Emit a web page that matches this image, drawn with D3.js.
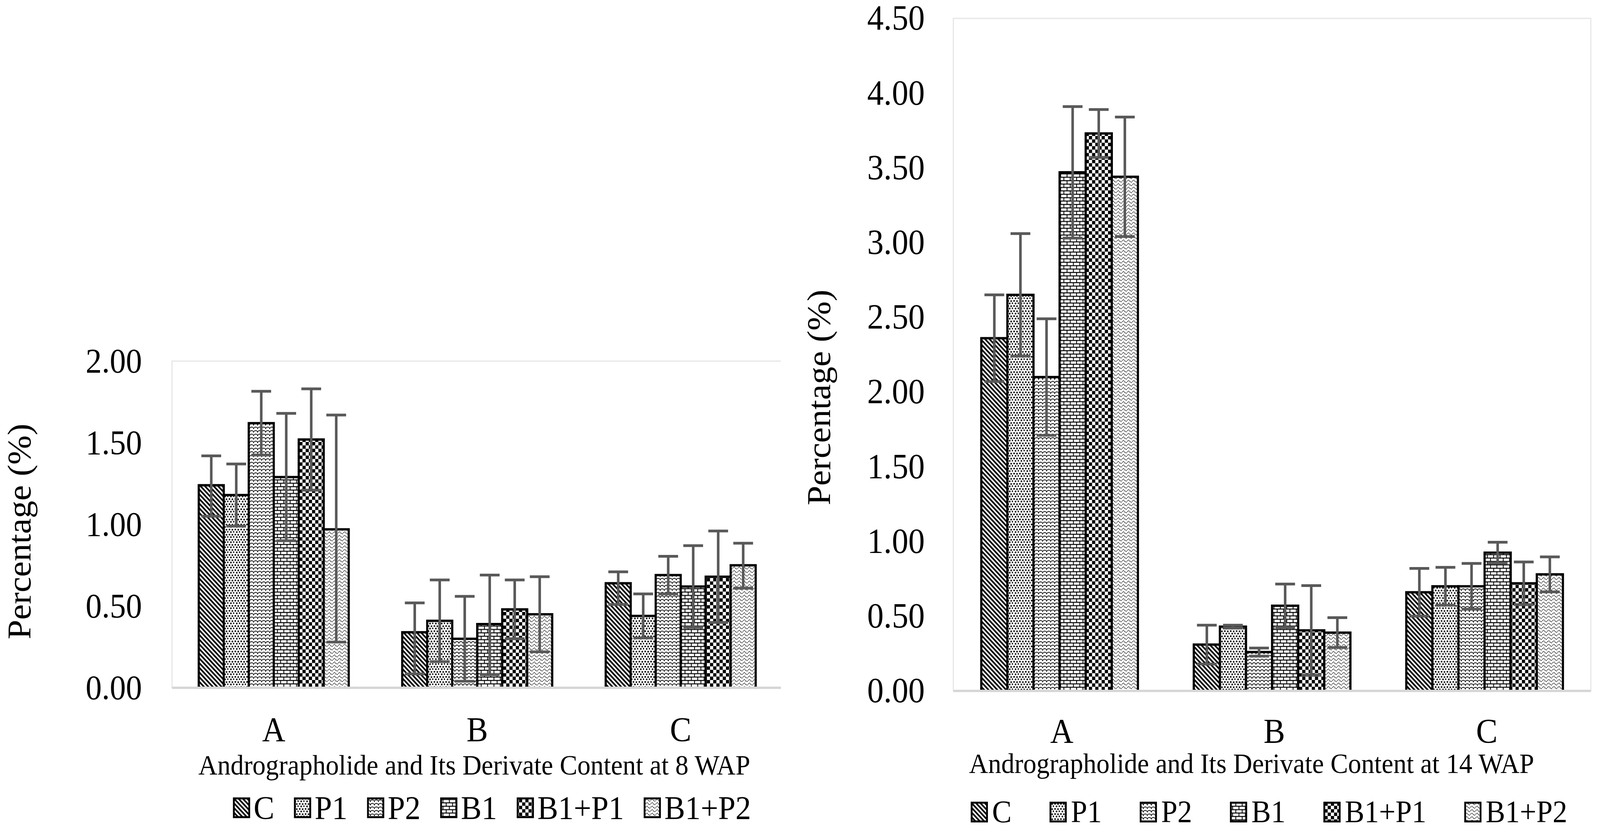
<!DOCTYPE html>
<html>
<head>
<meta charset="utf-8">
<script src="https://cdn.jsdelivr.net/npm/d3@7"></script>
<style>
  html, body { margin: 0; padding: 0; background: #fff; overflow: hidden; width: 100%; height: 100%; }
  svg { display: block; width: 100vw; height: 100vh; }
  text { font-family: "Liberation Serif", "Times New Roman", serif; fill: #000; }
</style>
</head>
<body>
<svg id="chart" viewBox="0 0 4372 2129" preserveAspectRatio="none"></svg>
<script>
// ---------------- DATA ----------------
const categories = ["A", "B", "C"];
const seriesNames = ["C", "P1", "P2", "B1", "B1+P1", "B1+P2"];

// 8 WAP (rows = categories A, B, C; columns = series)
const values8WAP = [
  [1.24, 1.18, 1.62, 1.29, 1.52, 0.97],
  [0.34, 0.41, 0.30, 0.39, 0.48, 0.45],
  [0.64, 0.44, 0.69, 0.62, 0.68, 0.75]
];
const errPlus8WAP = [
  [0.18, 0.19, 0.195, 0.39, 0.31, 0.70],
  [0.18, 0.25, 0.26, 0.30, 0.18, 0.23],
  [0.07, 0.135, 0.115, 0.25, 0.28, 0.135]
];
const errMinus8WAP = [
  [0.19, 0.19, 0.195, 0.39, 0.31, 0.69],
  [0.255, 0.25, 0.26, 0.31, 0.18, 0.23],
  [0.13, 0.135, 0.115, 0.25, 0.28, 0.14]
];
const yTicks8WAP = [0, 0.5, 1.0, 1.5, 2.0];

// 14 WAP
const values14WAP = [
  [2.36, 2.65, 2.10, 3.47, 3.73, 3.44],
  [0.31, 0.43, 0.26, 0.57, 0.405, 0.39],
  [0.66, 0.70, 0.70, 0.925, 0.72, 0.78]
];
const errPlus14WAP = [
  [0.29, 0.41, 0.39, 0.44, 0.16, 0.40],
  [0.13, 0.01, 0.027, 0.145, 0.30, 0.10],
  [0.16, 0.127, 0.153, 0.07, 0.143, 0.117]
];
const errMinus14WAP = [
  [0.29, 0.41, 0.39, 0.44, 0.16, 0.40],
  [0.13, 0.01, 0.027, 0.145, 0.30, 0.10],
  [0.16, 0.127, 0.153, 0.07, 0.143, 0.117]
];
const yTicks14WAP = [0, 0.5, 1.0, 1.5, 2.0, 2.5, 3.0, 3.5, 4.0, 4.5];

const yTitle = "Percentage (%)";
const xTitle8WAP = "Andrographolide and Its Derivate Content at 8 WAP";
const xTitle14WAP = "Andrographolide and Its Derivate Content at 14 WAP";

// ---------------- DRAWING ----------------
const svg = d3.select("#chart");
svg.append("rect").attr("width", 4372).attr("height", 2129).attr("fill", "#fff");
const defs = svg.append("defs");

function pattern(id, w, h) {
  const p = defs.append("pattern").attr("id", id)
    .attr("patternUnits", "userSpaceOnUse").attr("width", w).attr("height", h);
  p.append("rect").attr("width", w).attr("height", h).attr("fill", "#fff");
  return p;
}
// C : wide downward diagonal
{
  const p = pattern("pat0", 12, 12);
  p.append("path").attr("d", "M-3,-3 L15,15 M-9,3 L3,15 M3,-9 L15,3")
    .attr("stroke", "#000").attr("stroke-width", 4.4);
}
// P1 : dotted
{
  const p = pattern("pat1", 16, 13);
  [[1,1],[9,1.5],[5,7.5],[13,7]].forEach(([x,y]) =>
    p.append("rect").attr("x", x).attr("y", y).attr("width", 4).attr("height", 4).attr("fill", "#000"));
}
// P2 : shingle (offset scale arcs)
{
  const p = pattern("pat2", 22, 18);
  p.append("path")
    .attr("d", "M0,9 C0,2 11,2 11,9 C11,2 22,2 22,9 M-11,18 C-11,11 0,11 0,18 C0,11 11,11 11,18 C11,11 22,11 22,18 C22,11 33,11 33,18 M-11,0 C-11,-7 0,-7 0,0 C0,-7 11,-7 11,0 C11,-7 22,-7 22,0 C22,-7 33,-7 33,0")
    .attr("fill", "none").attr("stroke", "#000").attr("stroke-width", 1.8);
}
// B1 : horizontal brick
{
  const p = pattern("pat3", 17.4, 17.4);
  p.append("path")
    .attr("d", "M0,1.2 H17.4 M0,9.9 H17.4 M1.2,1.2 V9.9 M9.9,9.9 V17.4 M9.9,0 V1.2")
    .attr("stroke", "#000").attr("stroke-width", 2.3).attr("fill", "none");
}
// B1+P1 : large checkerboard
{
  const p = pattern("pat4", 17.4, 17.4);
  p.append("rect").attr("x", 0).attr("y", 0).attr("width", 8.7).attr("height", 8.7).attr("fill", "#000");
  p.append("rect").attr("x", 8.7).attr("y", 8.7).attr("width", 8.7).attr("height", 8.7).attr("fill", "#000");
}
// B1+P2 : wave
{
  const p = pattern("pat5", 14, 9);
  p.append("path").attr("d", "M0,5 C2.5,1 4.5,1 7,4.5 C9.5,8 11.5,8 14,5")
    .attr("fill", "none").attr("stroke", "#000").attr("stroke-width", 1.8)
    .attr("stroke-dasharray", "3,1.5");
}

function drawChart(cfg) {
  const g = svg.append("g");
  const x = d3.scaleBand().domain(categories).range([cfg.left, cfg.right])
    .paddingInner(0.263).paddingOuter(0.1315);
  const xs = d3.scaleBand().domain(seriesNames).range([0, x.bandwidth()]);
  const y = d3.scaleLinear().domain(cfg.yDomain).range([cfg.bottom, cfg.top]);

  // plot frame
  g.append("path").attr("d", cfg.framePath)
    .attr("fill", "none").attr("stroke", "#e6e6e6").attr("stroke-width", 3);

  // bars
  categories.forEach((cat, ci) => {
    seriesNames.forEach((s, si) => {
      const v = cfg.values[ci][si];
      g.append("rect")
        .attr("x", x(cat) + xs(s))
        .attr("y", y(v))
        .attr("width", xs.bandwidth())
        .attr("height", y(0) - y(v))
        .attr("fill", `url(#pat${si})`)
        .attr("stroke", "#000").attr("stroke-width", 6);
    });
  });

  // axis line
  g.append("line").attr("x1", cfg.left).attr("x2", cfg.axisRight)
    .attr("y1", y(0)).attr("y2", y(0))
    .attr("stroke", "#d6d6d6").attr("stroke-width", 6);

  // error bars
  const capW = 54;
  categories.forEach((cat, ci) => {
    seriesNames.forEach((s, si) => {
      const v = cfg.values[ci][si];
      const cx = x(cat) + xs(s) + xs.bandwidth() / 2;
      const hi = y(v + cfg.errPlus[ci][si]);
      const lo = y(v - cfg.errMinus[ci][si]);
      const eg = g.append("g").attr("stroke", "#595959").attr("stroke-width", 7);
      eg.append("line").attr("x1", cx).attr("x2", cx).attr("y1", hi).attr("y2", lo);
      eg.append("line").attr("x1", cx - capW / 2).attr("x2", cx + capW / 2).attr("y1", hi).attr("y2", hi);
      eg.append("line").attr("x1", cx - capW / 2).attr("x2", cx + capW / 2).attr("y1", lo).attr("y2", lo);
    });
  });

  // y axis labels
  const yAxis = d3.axisLeft(y).tickValues(cfg.yTicks).tickFormat(d3.format(".2f"))
    .tickSize(0).tickPadding(0);
  const ya = g.append("g").attr("transform", `translate(${cfg.tickRight},0)`).call(yAxis);
  ya.select(".domain").remove();
  ya.selectAll("text").style("font-family", '"Liberation Serif", serif')
    .style("font-size", cfg.tickFont + "px").attr("fill", "#000");

  // category labels
  g.selectAll(".cat").data(categories).enter().append("text")
    .attr("x", d => x(d) + x.bandwidth() / 2 + cfg.catShift)
    .attr("y", cfg.catBaseline)
    .attr("text-anchor", "middle").style("font-size", "88px").text(d => d);

  // x title
  g.append("text").attr("x", cfg.titleX).attr("y", cfg.titleBaseline)
    .attr("text-anchor", "middle").style("font-size", "72px").text(cfg.xTitle);

  // y title
  g.append("text").attr("transform", `translate(${cfg.yTitleX},${cfg.yTitleY}) rotate(-90)`)
    .attr("text-anchor", "middle").style("font-size", "90px").text(yTitle);

  // legend
  let lx = cfg.legendX;
  seriesNames.forEach((s, si) => {
    g.append("rect").attr("x", lx).attr("y", cfg.legendY)
      .attr("width", 42).attr("height", 48)
      .attr("fill", `url(#pat${si})`).attr("stroke", "#000").attr("stroke-width", 5);
    const t = g.append("text").attr("x", lx + 44 + cfg.legendTextGap).attr("y", cfg.legendBaseline)
      .style("font-size", cfg.legendFont + "px").text(s);
    const tw = t.node().getComputedTextLength();
    lx += 44 + cfg.legendTextGap + tw + cfg.legendGap;
  });
}

drawChart({
  left: 470, right: 2138, axisRight: 2134, top: 924, bottom: 1760,
  framePath: "M470,1760 V924 H2134",
  yDomain: [0, 2], yTicks: yTicks8WAP,
  values: values8WAP, errPlus: errPlus8WAP, errMinus: errMinus8WAP,
  tickRight: 388, tickFont: 88,
  catBaseline: 1896, catShift: 0,
  titleX: 1296, titleBaseline: 1982, xTitle: xTitle8WAP,
  yTitleX: 83, yTitleY: 1360,
  legendX: 639, legendY: 2043, legendBaseline: 2096, legendFont: 85,
  legendTextGap: 10, legendGap: 56
});

drawChart({
  left: 2605, right: 4347, axisRight: 4347, top: 47, bottom: 1768,
  framePath: "M2605,47 H4347 V1768 H2605 Z",
  yDomain: [0, 4.5], yTicks: yTicks14WAP,
  values: values14WAP, errPlus: errPlus14WAP, errMinus: errMinus14WAP,
  tickRight: 2527, tickFont: 90,
  catBaseline: 1900, catShift: 6,
  titleX: 3420, titleBaseline: 1978, xTitle: xTitle14WAP,
  yTitleX: 2268, yTitleY: 1017,
  legendX: 2655, legendY: 2054, legendBaseline: 2104, legendFont: 80,
  legendTextGap: 12, legendGap: 106
});
</script>
</body>
</html>
